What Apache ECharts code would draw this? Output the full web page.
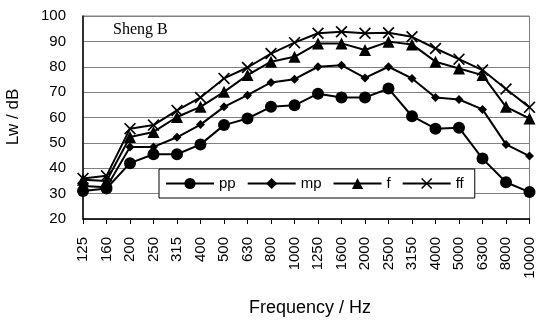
<!DOCTYPE html>
<html>
<head>
<meta charset="utf-8">
<script src="https://cdn.jsdelivr.net/npm/echarts@6/dist/echarts.min.js"></script>
<style>
  html, body { margin: 0; padding: 0; background: #fff; }
  #chart { width: 537px; height: 321px; }
</style>
</head>
<body>
<div id="chart"></div>
<script>
// 频率 (Hz)
const freqs = ['125', '160', '200', '250', '315', '400', '500', '630', '800', '1000',
  '1250', '1600', '2000', '2500', '3150', '4000', '5000', '6300', '8000', '10000']

// Lw / dB
const pp = [31, 32, 42, 45.5, 45.5, 49.4, 57, 59.6, 64.2, 64.8,
  69.4, 67.9, 67.9, 71.4, 60.5, 55.6, 56, 43.8, 34.5, 30.6]
const mp = [33, 32.5, 48.4, 48.4, 52.2, 57.2, 64.2, 68.8, 73.8, 75.1,
  80, 80.6, 75.6, 80, 75.4, 67.9, 67.1, 63.2, 49.4, 44.8]
const f = [35.5, 35, 52.3, 54.3, 60.2, 64.2, 70.1, 76.7, 82, 83.9,
  89.2, 89.2, 86.6, 89.9, 88.8, 82, 79.3, 76.7, 64.2, 59.6]
const ff = [36, 37, 55.6, 57, 62.8, 67.9, 75.4, 79.7, 85.2, 89.5,
  93.2, 93.8, 93.2, 93.4, 91.8, 87.2, 83, 78.7, 71.2, 64]

const yTicks = { min: 20, max: 100, step: 10 }

const xMark = 'path://M0,1 L1,0 L5,4 L9,0 L10,1 L6,5 L10,9 L9,10 L5,6 L1,10 L0,9 L4,5 Z'

function line(name, data, symbol, size) {
  return {
    name: name,
    type: 'line',
    data: data,
    symbol: symbol,
    symbolSize: size,
    showSymbol: true,
    animation: false,
    lineStyle: { color: '#000', width: 2 },
    itemStyle: { color: '#000', borderWidth: 0 },
  }
}

const chart = echarts.init(document.getElementById('chart'))
chart.setOption({
  animation: false,
  textStyle: { fontFamily: 'Liberation Sans, Arial, sans-serif' },
  grid: {
    left: 83, right: 5, top: 16, bottom: 102,
    show: true, borderColor: '#808080', borderWidth: 1,
  },
  legend: {
    left: 159, top: 169,
    padding: [7, 11, 7, 6],
    itemGap: 11,
    itemWidth: 48,
    itemHeight: 14,
    borderColor: '#000',
    borderWidth: 1,
    backgroundColor: '#fff',
    textStyle: { color: '#000', fontSize: 15 },
    data: ['pp', 'mp', 'f', 'ff'],
  },
  xAxis: {
    type: 'category',
    data: freqs,
    boundaryGap: false,
    axisLine: { lineStyle: { color: '#000', width: 1.5 } },
    axisTick: { show: true, length: 5, interval: 0, lineStyle: { color: '#000' } },
    axisLabel: { rotate: 90, interval: 0, margin: 18, color: '#000', fontSize: 15 },
    splitLine: { show: false },
  },
  yAxis: {
    type: 'value',
    min: yTicks.min, max: yTicks.max, interval: yTicks.step,
    axisLine: { show: true, lineStyle: { color: '#000', width: 1.5 } },
    axisTick: { show: false },
    axisLabel: { margin: 17, color: '#000', fontSize: 15 },
    splitLine: { lineStyle: { color: '#808080', width: 1 } },
  },
  graphic: [
    {
      type: 'text', left: 113, top: 22,
      style: { text: 'Sheng B', font: '16px "Liberation Serif", serif', fill: '#000' },
    },
    {
      type: 'text', x: 13, y: 117, rotation: Math.PI / 2,
      style: { text: 'Lw / dB', font: '17px "Liberation Sans", Arial, sans-serif', fill: '#000',
        align: 'center', verticalAlign: 'middle' },
    },
    {
      type: 'text', x: 310, y: 308,
      style: { text: 'Frequency / Hz', font: '18px "Liberation Sans", Arial, sans-serif', fill: '#000',
        align: 'center', verticalAlign: 'middle' },
    },
  ],
  series: [
    line('pp', pp, 'circle', 12),
    line('mp', mp, 'diamond', 9),
    line('f', f, 'triangle', 12),
    line('ff', ff, xMark, 12),
  ],
})
</script>
</body>
</html>
